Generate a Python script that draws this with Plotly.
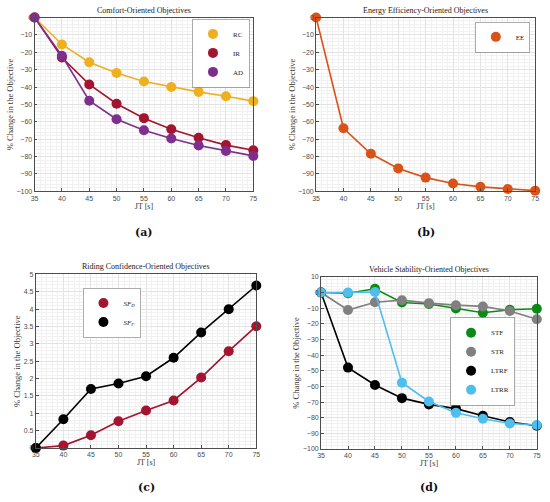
import plotly.graph_objects as go

JT = [35, 40, 45, 50, 55, 60, 65, 70, 75]

# (a) comfort
RC = [0, -15.5, -25.7, -31.9, -36.8, -40.0, -42.8, -45.3, -48.1]
IR = [0, -23.0, -38.5, -49.6, -57.9, -64.3, -69.2, -73.4, -76.4]
AD = [0, -22.0, -47.9, -58.5, -64.9, -69.6, -73.6, -76.8, -79.6]
# (b) energy
EE = [0, -63.7, -78.4, -86.8, -92.1, -95.5, -97.4, -98.7, -99.6]
# (c) riding confidence
SF_D = [0, 0.07, 0.37, 0.77, 1.08, 1.37, 2.03, 2.79, 3.51]
SF_F = [0, 0.83, 1.70, 1.86, 2.07, 2.60, 3.33, 4.00, 4.68]
# (d) vehicle stability
STF = [0, -0.5, 2.4, -6.4, -7.4, -10.2, -12.9, -11.0, -10.4]
STR = [0, -11.2, -6.2, -4.9, -6.8, -8.1, -8.9, -11.8, -17.1]
LTRF = [0, -48.0, -59.1, -67.5, -71.5, -74.2, -78.8, -82.8, -85.1]
LTRR = [0, 0.0, 0.3, -57.6, -69.6, -76.9, -80.7, -83.7, -84.7]

W, H = 550, 502

panels = [
    dict(title="Comfort-Oriented Objectives", caption="(a)",
         series=[("RC", RC, "#EDB120"), ("IR", IR, "#A2142F"), ("AD", AD, "#7E2F8E")],
         xdom=[31 / W, 253 / W], ydom=[1 - 190 / H, 1 - 13.7 / H],
         yrange=[-100, 0], dy=10, mdy=2, leg=(249, 15, "right")),
    dict(title="Energy Efficiency-Oriented Objectives", caption="(b)",
         series=[("EE", EE, "#D95319")],
         xdom=[316.7 / W, 539 / W], ydom=[1 - 190 / H, 1 - 13.7 / H],
         yrange=[-100, 0], dy=10, mdy=2, leg=(534, 18, "right")),
    dict(title="Riding Confidence-Oriented Objectives", caption="(c)",
         series=[("<i>SF<sub>D</sub></i>", SF_D, "#A2142F"), ("<i>SF<sub>F</sub></i>", SF_F, "#000000")],
         xdom=[32.3 / W, 256 / W], ydom=[1 - 450.3 / H, 1 - 274.3 / H],
         yrange=[0, 5], dy=0.5, mdy=0.1, leg=(80, 288, "left")),
    dict(title="Vehicle Stability-Oriented Objectives", caption="(d)",
         series=[("STF", STF, "#0B8A16"), ("STR", STR, "#808080"),
                 ("LTRF", LTRF, "#000000"), ("LTRR", LTRR, "#4DBEEE")],
         xdom=[321.7 / W, 540.7 / W], ydom=[1 - 451.3 / H, 1 - 276.7 / H],
         yrange=[-100, 10], dy=10, mdy=2, leg=(518, 318, "right")),
]

SERIF = "Liberation Serif"
fig = go.Figure()

for i, p in enumerate(panels):
    n = "" if i == 0 else str(i + 1)
    leg = "legend" + n
    for name, vals, col in p["series"]:
        # line and markers as two traces so the legend shows only the dot
        fig.add_trace(go.Scatter(
            x=JT, y=vals, mode="lines", line=dict(color=col, width=1.6),
            showlegend=False, hoverinfo="skip", cliponaxis=False,
            xaxis="x" + n, yaxis="y" + n))
        fig.add_trace(go.Scatter(
            x=JT, y=vals, name=name, mode="markers",
            marker=dict(color=col, size=10),
            cliponaxis=False, xaxis="x" + n, yaxis="y" + n, legend=leg))

    ax = dict(showline=True, linecolor="#4d4d4d", linewidth=0.8, mirror=True,
              ticks="inside", ticklen=3, tickcolor="#4d4d4d",
              showgrid=True, gridcolor="#e3e3e3", gridwidth=0.6, zeroline=False,
              tickfont=dict(family="Liberation Sans", size=7, color="#4d4d4d"))
    fig.update_layout({
        "xaxis" + n: dict(ax, domain=p["xdom"], range=[35, 75], dtick=5, tick0=35,
                          anchor="y" + n,
                          minor=dict(dtick=1, showgrid=True, gridcolor="#f1f1f1", gridwidth=0.5),
                          title=dict(text="JT [s]", standoff=0,
                                     font=dict(family=SERIF, size=8, color="#333"))),
        "yaxis" + n: dict(ax, domain=p["ydom"], range=p["yrange"], dtick=p["dy"],
                          anchor="x" + n,
                          minor=dict(dtick=p["mdy"], showgrid=True, gridcolor="#f1f1f1", gridwidth=0.5),
                          title=dict(text="% Change in the Objective", standoff=1,
                                     font=dict(family=SERIF, size=8.5, color="#333"))),
        leg: dict(x=p["leg"][0] / W, y=1 - p["leg"][1] / H,
                  xanchor=p["leg"][2], yanchor="top", bgcolor="white",
                  bordercolor="#777", borderwidth=0.6, itemsizing="trace",
                  tracegroupgap=0, itemwidth=30,
                  font=dict(family=SERIF, size=7, color="#222")),
    })
    xc = (p["xdom"][0] + p["xdom"][1]) / 2
    fig.add_annotation(text=p["title"], x=xc, y=p["ydom"][1], xref="paper", yref="paper",
                       xanchor="center", yanchor="bottom", yshift=1, showarrow=False,
                       font=dict(family=SERIF, size=8, color="#222"))
    fig.add_annotation(text="<b>" + p["caption"] + "</b>", x=xc, xref="paper", yref="paper",
                       y=1 - (232 if i < 2 else 490) / H, xanchor="center", yanchor="middle",
                       showarrow=False,
                       font=dict(family="DejaVu Serif", size=11, color="#111"))

fig.update_layout(width=W, height=H, margin=dict(l=0, r=0, t=0, b=0),
                  paper_bgcolor="white", plot_bgcolor="white")

# the page's default body margin would shift the figure by 8px
fig.write_html("out.html", config={"displayModeBar": False},
               post_script="document.body.style.margin='0';")
